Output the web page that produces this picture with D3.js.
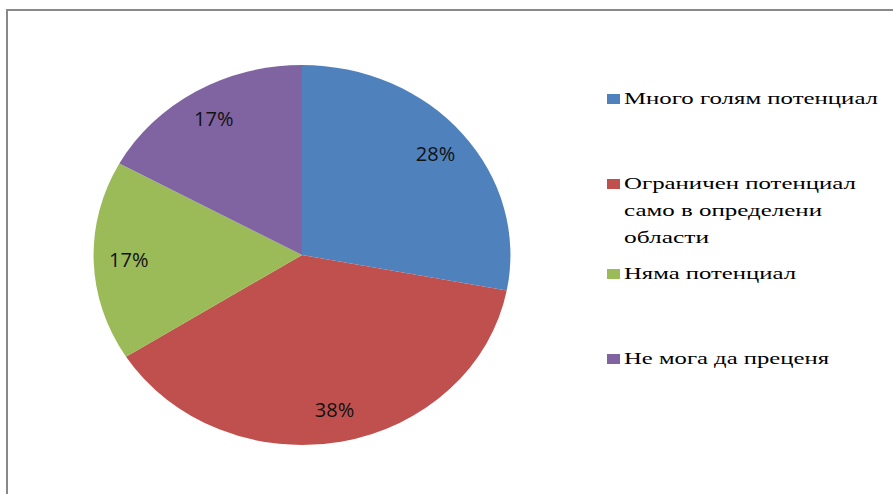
<!DOCTYPE html>
<html>
<head>
<meta charset="utf-8">
<script src="https://cdn.jsdelivr.net/npm/d3@7"></script>
<style>
  body { margin: 0; background: #fff; }
  .leg { font-family: "Liberation Serif", "DejaVu Serif", "Times New Roman", serif; }
</style>
</head>
<body>
<div id="main"></div>
<script>
const ctx = {
    w: 893,
    h: 494,
    cx: 302,
    cy: 255,
    r: 190,
    sx: 1.097,   // pie is stretched horizontally
    labelR: 158
};

// chart data
const categories = ["Много голям потенциал", "Ограничен потенциал само в определени области", "Няма потенциал", "Не мога да преценя"];
const legendLines = [["Много голям потенциал"], ["Ограничен потенциал", "само в определени", "области"], ["Няма потенциал"], ["Не мога да преценя"]];
const values = [28, 38, 17, 17];
const colors = ["#4F81BD", "#C0504D", "#9BBB59", "#8064A2"];
// widths of each legend line as they appear in the picture
const legendWidths = [[254], [232, 198, 85], [172], [205]];

function createViz() {
    const svgEl = d3.select("#main").append("svg")
        .attr("width", ctx.w)
        .attr("height", ctx.h);

    // frame (only top + left visible)
    svgEl.append("path")
        .attr("d", `M7,${ctx.h} L7,10 L${ctx.w},10`)
        .attr("fill", "none")
        .attr("stroke", "#898989")
        .attr("stroke-width", 2);

    const data = categories.map((c, i) => ({ name: c, value: values[i], color: colors[i] }));
    const pie = d3.pie().sort(null).value(d => d.value);
    const arcs = pie(data);

    const arc = d3.arc().innerRadius(0).outerRadius(ctx.r);
    const labelArc = d3.arc().innerRadius(ctx.labelR).outerRadius(ctx.labelR);

    const pieG = svgEl.append("g")
        .attr("transform", `translate(${ctx.cx},${ctx.cy}) scale(${ctx.sx},1)`);
    pieG.selectAll("path")
        .data(arcs)
        .enter().append("path")
        .attr("d", arc)
        .attr("fill", d => d.data.color);

    const labG = svgEl.append("g")
        .attr("transform", `translate(${ctx.cx},${ctx.cy})`);
    labG.selectAll("text")
        .data(arcs)
        .enter().append("text")
        .attr("x", d => labelArc.centroid(d)[0] * ctx.sx)
        .attr("y", d => labelArc.centroid(d)[1])
        .attr("dy", "0.35em")
        .attr("text-anchor", "middle")
        .attr("font-family", "'Open Sans', sans-serif")
        .attr("font-size", 20)
        .attr("fill", "#111")
        .text(d => d.data.value + "%");

    // legend
    const legendY = [99, 184, 274, 359];
    const legG = svgEl.append("g");
    const rows = legG.selectAll("g")
        .data(data)
        .enter().append("g")
        .attr("transform", (d, i) => `translate(607,${legendY[i]})`);
    rows.append("rect")
        .attr("x", 0).attr("y", -5)
        .attr("width", 13).attr("height", 10)
        .attr("fill", d => d.color);
    rows.append("text")
        .attr("class", "leg")
        .attr("font-size", 17)
        .attr("fill", "#000")
        .selectAll("tspan")
        .data((d, i) => legendLines[i].map((t, j) => ({ t: t, w: legendWidths[i][j] })))
        .enter().append("tspan")
        .attr("x", 17)
        .attr("y", (d, j) => 5 + j * 27)
        .attr("textLength", d => d.w)
        .attr("lengthAdjust", "spacingAndGlyphs")
        .text(d => d.t);
}

createViz();
</script>
</body>
</html>
